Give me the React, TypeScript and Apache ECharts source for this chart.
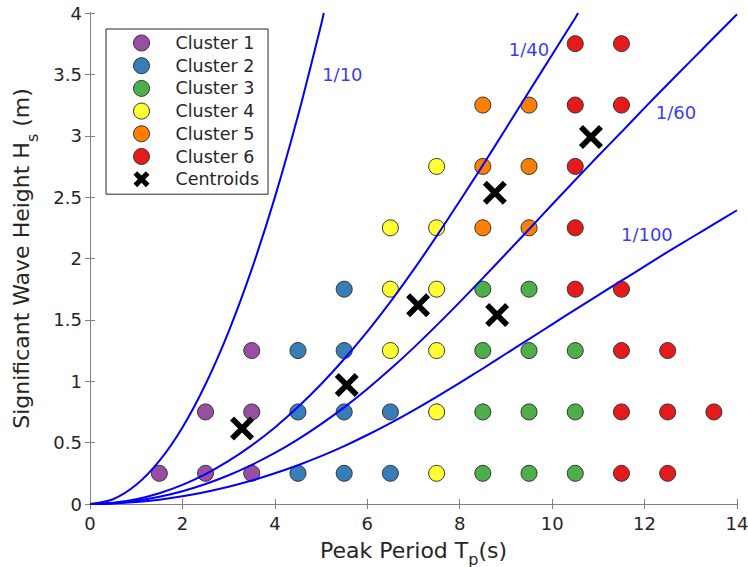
import React, { useEffect, useRef } from "react";
import * as echarts from "echarts";

// ---- data ----
const cluster1 = [[1.5, 0.25], [2.5, 0.25], [3.5, 0.25], [2.5, 0.75], [3.5, 0.75], [3.5, 1.25]];
const cluster2 = [[4.5, 0.25], [5.5, 0.25], [6.5, 0.25], [4.5, 0.75], [5.5, 0.75], [6.5, 0.75], [4.5, 1.25], [5.5, 1.25], [5.5, 1.75]];
const cluster3 = [[8.5, 0.25], [9.5, 0.25], [10.5, 0.25], [8.5, 0.75], [9.5, 0.75], [10.5, 0.75], [8.5, 1.25], [9.5, 1.25], [10.5, 1.25], [8.5, 1.75], [9.5, 1.75]];
const cluster4 = [[7.5, 0.25], [7.5, 0.75], [6.5, 1.25], [7.5, 1.25], [6.5, 1.75], [7.5, 1.75], [6.5, 2.25], [7.5, 2.25], [7.5, 2.75]];
const cluster5 = [[8.5, 2.25], [9.5, 2.25], [8.5, 2.75], [9.5, 2.75], [8.5, 3.25], [9.5, 3.25]];
const cluster6 = [[11.5, 0.25], [12.5, 0.25], [11.5, 0.75], [12.5, 0.75], [13.5, 0.75], [11.5, 1.25], [12.5, 1.25], [10.5, 1.75], [11.5, 1.75], [10.5, 2.25], [10.5, 2.75], [10.5, 3.25], [11.5, 3.25], [10.5, 3.75], [11.5, 3.75]];
const centroids = [[3.29, 0.615], [5.555, 0.969], [7.1, 1.62], [8.76, 2.536], [8.81, 1.54], [10.84, 2.99]];

const clusterNames = ["Cluster 1", "Cluster 2", "Cluster 3", "Cluster 4", "Cluster 5", "Cluster 6"];
const clusterColors = ["#984ea3", "#377eb8", "#4daf4a", "#ffff33", "#ff7f00", "#e41a1c"];

// steepness curves
const steep10T = [0, 0.5, 1, 1.5, 2, 2.5, 3, 3.5, 4, 4.5, 5, 5.06];
const steep10H = [0, 0.039, 0.156, 0.351, 0.624, 0.976, 1.405, 1.913, 2.498, 3.162, 3.903, 4.0];
const steep40T = [0, 0.5, 1, 1.5, 2, 2.5, 3, 3.5, 4, 4.5, 5, 5.5, 6, 6.5, 7, 7.5, 8, 8.5, 9, 9.5, 10, 10.5, 10.56];
const steep40H = [0, 0.0098, 0.039, 0.088, 0.156, 0.244, 0.351, 0.478, 0.624, 0.79, 0.976, 1.181, 1.405, 1.647, 1.907, 2.182, 2.468, 2.76, 3.059, 3.36, 3.66, 3.96, 4.0];
const steepT = [0, 0.5, 1, 1.5, 2, 2.5, 3, 3.5, 4, 4.5, 5, 5.5, 6, 6.5, 7, 7.5, 8, 8.5, 9, 9.5, 10, 10.5, 11, 11.5, 12, 12.5, 13, 13.5, 14];
const steep60H = [0, 0.0065, 0.026, 0.0585, 0.104, 0.163, 0.234, 0.319, 0.416, 0.527, 0.651, 0.787, 0.937, 1.099, 1.272, 1.455, 1.645, 1.84, 2.039, 2.238, 2.44, 2.64, 2.837, 3.03, 3.227, 3.42, 3.61, 3.8, 3.99];
const steep100H = [0, 0.0039, 0.0156, 0.035, 0.0624, 0.098, 0.1405, 0.191, 0.25, 0.316, 0.39, 0.472, 0.562, 0.659, 0.763, 0.873, 0.987, 1.104, 1.224, 1.343, 1.464, 1.584, 1.702, 1.819, 1.936, 2.054, 2.167, 2.28, 2.393];

const curveLabels = ["1/10", "1/40", "1/60", "1/100"];
const curveLabelPos = [[5.46, 3.5], [9.5, 3.7], [12.68, 3.19], [12.05, 2.195]];

const FONT = "DejaVu Sans";
const AXIS_GRAY = "#808080";
const TEXT = "#262626";
const X_PATH = "path://M0,4 L4,0 L12,8 L20,0 L24,4 L16,12 L24,20 L20,24 L12,16 L4,24 L0,20 L8,12 Z";
const X_PATH_BOLD = "path://M0,5.5 L5.5,0 L12,6.5 L18.5,0 L24,5.5 L17.5,12 L24,18.5 L18.5,24 L12,17.5 L5.5,24 L0,18.5 L6.5,12 Z";

const zip = (a: number[], b: number[]) => a.map((v, i) => [v, b[i]]);

export default function App() {
  const ref = useRef<HTMLDivElement>(null);
  useEffect(() => {
    if (!ref.current) return;
    const chart = echarts.init(ref.current, undefined, { renderer: "svg" });

    const axisCommon = {
      type: "value" as const,
      axisLine: { show: true, lineStyle: { color: AXIS_GRAY, width: 1 } },
      axisTick: { show: true, inside: true, length: 5, lineStyle: { color: AXIS_GRAY } },
      splitLine: { show: false },
    };

    const clusterSeries = clusterNames.map((name, i) => ({
      name,
      type: "scatter",
      data: [cluster1, cluster2, cluster3, cluster4, cluster5, cluster6][i],
      symbol: "circle",
      symbolSize: 16,
      itemStyle: { color: clusterColors[i], borderColor: "#333333", borderWidth: 1, opacity: 1 },
      z: 2,
      silent: true,
    }));

    const curves = [zip(steep10T, steep10H), zip(steep40T, steep40H), zip(steepT, steep60H), zip(steepT, steep100H)];
    const curveSeries = curves.map((d, i) => ({
      name: "curve" + curveLabels[i],
      type: "line",
      data: d,
      symbol: "none",
      smooth: 0.3,
      lineStyle: { color: "#0000ff", width: 2 },
      z: 3,
      silent: true,
    }));

    chart.setOption({
      animation: false,
      backgroundColor: "#ffffff",
      textStyle: { fontFamily: FONT },
      grid: { left: 90, top: 13, right: 11, bottom: 63, containLabel: false, outerBoundsMode: "none" },
      xAxis: [
        {
          ...axisCommon,
          position: "bottom",
          min: 0,
          max: 14,
          interval: 2,
          axisLabel: { color: TEXT, fontSize: 18, fontFamily: FONT, margin: 10 },
          name: "{b|Peak Period T}{s|p}{b|(s)}",
          nameLocation: "middle",
          nameGap: 29,
          nameTextStyle: {
            rich: {
              b: { fontSize: 22, color: TEXT, fontFamily: FONT },
              s: { fontSize: 16, color: TEXT, fontFamily: FONT, padding: [18, 0, 0, 0] },
            },
          },
        },
        {
          ...axisCommon,
          position: "top",
          min: 0,
          max: 14,
          interval: 2,
          axisLabel: { show: false },
        },
      ],
      yAxis: [
        {
          ...axisCommon,
          position: "left",
          min: 0,
          max: 4,
          interval: 0.5,
          axisLabel: { color: TEXT, fontSize: 18, fontFamily: FONT, margin: 8 },
          name: "{b|Significant Wave Height H}{s|s}{b| (m)}",
          nameLocation: "middle",
          nameGap: 50,
          nameTextStyle: {
            rich: {
              b: { fontSize: 22, color: TEXT, fontFamily: FONT },
              s: { fontSize: 16, color: TEXT, fontFamily: FONT, padding: [22, 0, 0, 0] },
            },
          },
        },
        {
          ...axisCommon,
          position: "right",
          min: 0,
          max: 4,
          interval: 0.5,
          axisLabel: { show: false },
        },
      ],
      legend: {
        show: true,
        orient: "vertical",
        left: 106,
        top: 29,
        padding: [5, 9, 6, 27],
        itemWidth: 58,
        itemHeight: 16,
        itemGap: 4.7,
        backgroundColor: "#ffffff",
        borderColor: "#262626",
        borderWidth: 1,
        borderRadius: 0,
        itemStyle: { borderWidth: 0 },
        textStyle: { fontSize: 17.5, color: TEXT, fontFamily: FONT, lineHeight: 16, padding: [0, 0, 0, 0] },
        data: [
          ...clusterNames.map((n) => ({ name: n, itemStyle: { borderColor: "#333333", borderWidth: 1 } })),
          { name: "Centroids", icon: X_PATH_BOLD, itemStyle: { borderWidth: 0 } },
        ],
        selectedMode: false,
      },
      series: [
        ...clusterSeries,
        ...curveSeries,
        {
          name: "curveLabels",
          type: "scatter",
          data: curveLabelPos.map((p, i) => ({ value: p, name: curveLabels[i] })),
          symbolSize: 1,
          itemStyle: { color: "rgba(0,0,0,0)" },
          label: {
            show: true,
            position: "inside",
            formatter: "{b}",
            color: "#0000ff",
            fontSize: 18,
            fontFamily: FONT,
          },
          z: 4,
          silent: true,
        },
        {
          name: "Centroids",
          type: "scatter",
          data: centroids,
          symbol: X_PATH,
          symbolSize: 24,
          itemStyle: { color: "#000000", borderWidth: 0, opacity: 1 },
          z: 5,
          silent: true,
        },
      ],
    });
    return () => chart.dispose();
  }, []);
  return <div ref={ref} style={{ position: "absolute", left: 0, top: 0, width: 748, height: 567 }} />;
}
